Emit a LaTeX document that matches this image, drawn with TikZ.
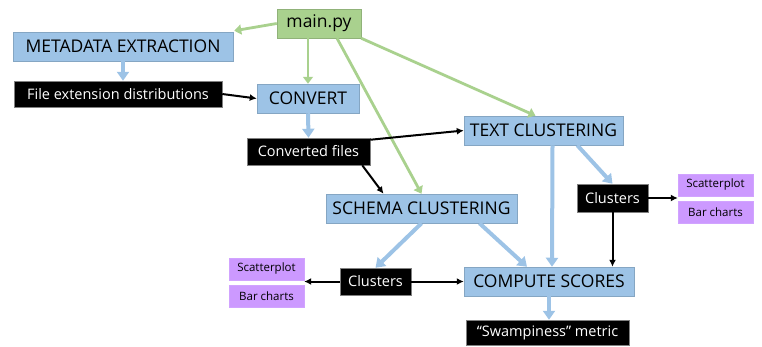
\documentclass[tikz,border=0pt]{standalone}
\usepackage{fontspec}
\setmainfont{Open Sans}
\usepackage{tikz}
\usetikzlibrary{arrows.meta}
\definecolor{stageblue}{HTML}{9DC3E6}
\definecolor{maingreen}{HTML}{A9D18E}
\definecolor{plotpurple}{HTML}{CC99FF}

\tikzset{
  stage/.style={fill=stageblue, draw=stageblue!85!black, line width=.5pt, inner sep=0pt, minimum height=29pt, font=\fontsize{17.5}{20}\selectfont},
  entry/.style={stage, fill=maingreen, draw=maingreen!85!black},
  result/.style={fill=black, draw=gray, line width=.5pt, text=white, inner sep=0pt, minimum height=26pt, font=\fontsize{14.5}{17}\selectfont},
  chart/.style={fill=plotpurple, draw=plotpurple!90!white, inner sep=0pt, minimum width=75pt, minimum height=22pt, font=\fontsize{11.5}{14}\selectfont},
  calls/.style={draw=maingreen, line width=2.8pt, -{Triangle[width=10pt,length=7pt]}},
  flow/.style={draw=stageblue, line width=4pt, -{Triangle[width=12pt,length=9pt]}},
  feeds/.style={draw=black, line width=2pt, -{Latex[width=7pt,length=7pt]}}
}

\begin{document}
\begin{tikzpicture}[x=1pt, y=-1pt]
\useasboundingbox (0,0) rectangle (762,346);
% boxes
\node [entry, minimum width=84pt] (main) at (319, 23.5) {main.py};
\node [stage, minimum width=220pt] (meta) at (123, 46.5) {METADATA EXTRACTION};
\node [result, minimum width=208pt] (fileext) at (118, 94) {File extension distributions};
\node [stage, minimum width=102pt] (convert) at (308, 98.5) {CONVERT};
\node [result, minimum width=123pt, minimum height=27pt] (convfiles) at (308.5, 151.5) {Converted files};
\node [stage, minimum width=159pt] (textclust) at (543.5, 130.5) {TEXT CLUSTERING};
\node [stage, minimum width=191pt] (schema) at (421.5, 208.5) {SCHEMA CLUSTERING};
\node [stage, minimum width=170pt] (compute) at (549, 281.5) {COMPUTE SCORES};
\node [result, minimum width=163pt, minimum height=25pt] (swamp) at (547.5, 332.5) {“Swampiness” metric};
\node [result, minimum width=71pt, minimum height=27pt] (clustL) at (375.5, 281.5) {Clusters};
\node [result, minimum width=71pt, minimum height=28pt] (clustR) at (612.5, 198) {Clusters};
\node [chart] (scatL) at (266.5, 269) {Scatterplot};
\node [chart] (barL) at (266.5, 296) {Bar charts};
\node [chart] (scatR) at (715.5, 185) {Scatterplot};
\node [chart] (barR) at (715.5, 212) {Bar charts};
% main.py calls
\draw [calls] (main.west) -- ([shift={(1pt,1pt)}]meta.north east);
\draw [calls] (main.south -| convert.north) -- (convert.north);
\draw [calls] ([xshift=18pt]main.south) -- (schema.north);
\draw [calls] (main.south east) -- ([xshift=-8pt]textclust.north);
% pipeline
\draw [flow] (meta.south) -- (meta.south |- fileext.north);
\draw [flow] (convert.south) -- (convfiles.north);
\draw [flow] ([xshift=9pt]textclust.south) -- ([xshift=3pt]compute.north);
\draw [flow] ([xshift=-46pt]textclust.south east) -- (clustR.north);
\draw [flow] (schema.south) -- (clustL.north);
\draw [flow] ([xshift=58pt]schema.south) -- ([xshift=-22pt]compute.north);
\draw [flow] (compute.south) -- (compute.south |- swamp.north);
% data
\draw [feeds] (fileext.east) -- (convert.west);
\draw [feeds] ([yshift=-2pt]convfiles.north east) -- (textclust.west);
\draw [feeds] ([xshift=-8pt]convfiles.south east) -- ([xshift=-38pt]schema.north);
\draw [feeds] (clustL.west) -- (clustL.west -| scatL.east);
\draw [feeds] (clustL.east) -- (compute.west);
\draw [feeds] (clustR.east) -- (clustR.east -| scatR.west);
\draw [feeds] (clustR.south) -- (clustR.south |- compute.north);
\end{tikzpicture}
\end{document}
